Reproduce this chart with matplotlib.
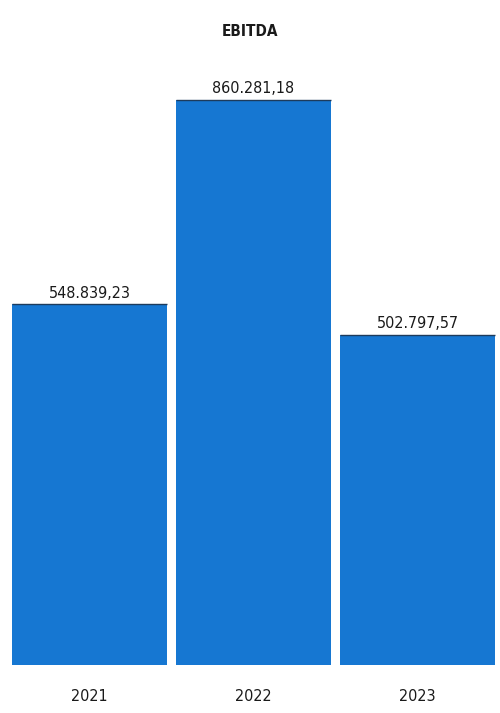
import matplotlib.pyplot as plt

years = ["2021", "2022", "2023"]
ebitda = [548839.23, 860281.18, 502797.57]
labels = ["548.839,23", "860.281,18", "502.797,57"]

plt.rcParams['font.family'] = ['DejaVu Sans']
plt.rcParams['font.stretch'] = 'condensed'

fig = plt.figure(figsize=(5, 7.13), dpi=100)
ax = fig.add_axes([7.5 / 500, 1 - 665 / 713, 492 / 500, 605 / 713])

x = range(len(years))
bars = ax.bar(x, ebitda, width=0.945, color="#1677d2", linewidth=0)
# dark rim on the top of each bar, like the scanned original
for b in bars:
    ax.hlines(b.get_height(), b.get_x(), b.get_x() + b.get_width(),
              color="#1d3b5c", linewidth=1.0)
for b, lab in zip(bars, labels):
    ax.text(b.get_x() + b.get_width() / 2, b.get_height() + 6000, lab,
            ha="center", va="bottom", fontsize=11.5, color="#1a1a1a",
            stretch="condensed")

ax.set_xlim(-0.5, 2.5)
ax.set_ylim(0, 921000)
ax.set_xticks(list(x))
ax.set_xticklabels(years, fontsize=11.5, color="#1a1a1a", stretch="condensed")
ax.tick_params(axis="x", length=0, pad=17)
ax.set_yticks([])
for s in ax.spines.values():
    s.set_visible(False)

fig.text(0.5, 1 - 32 / 713, "EBITDA", ha="center", va="center",
         fontsize=11, fontweight="bold", color="#1a1a1a", stretch="condensed")

fig.savefig("out.png", dpi=100)
